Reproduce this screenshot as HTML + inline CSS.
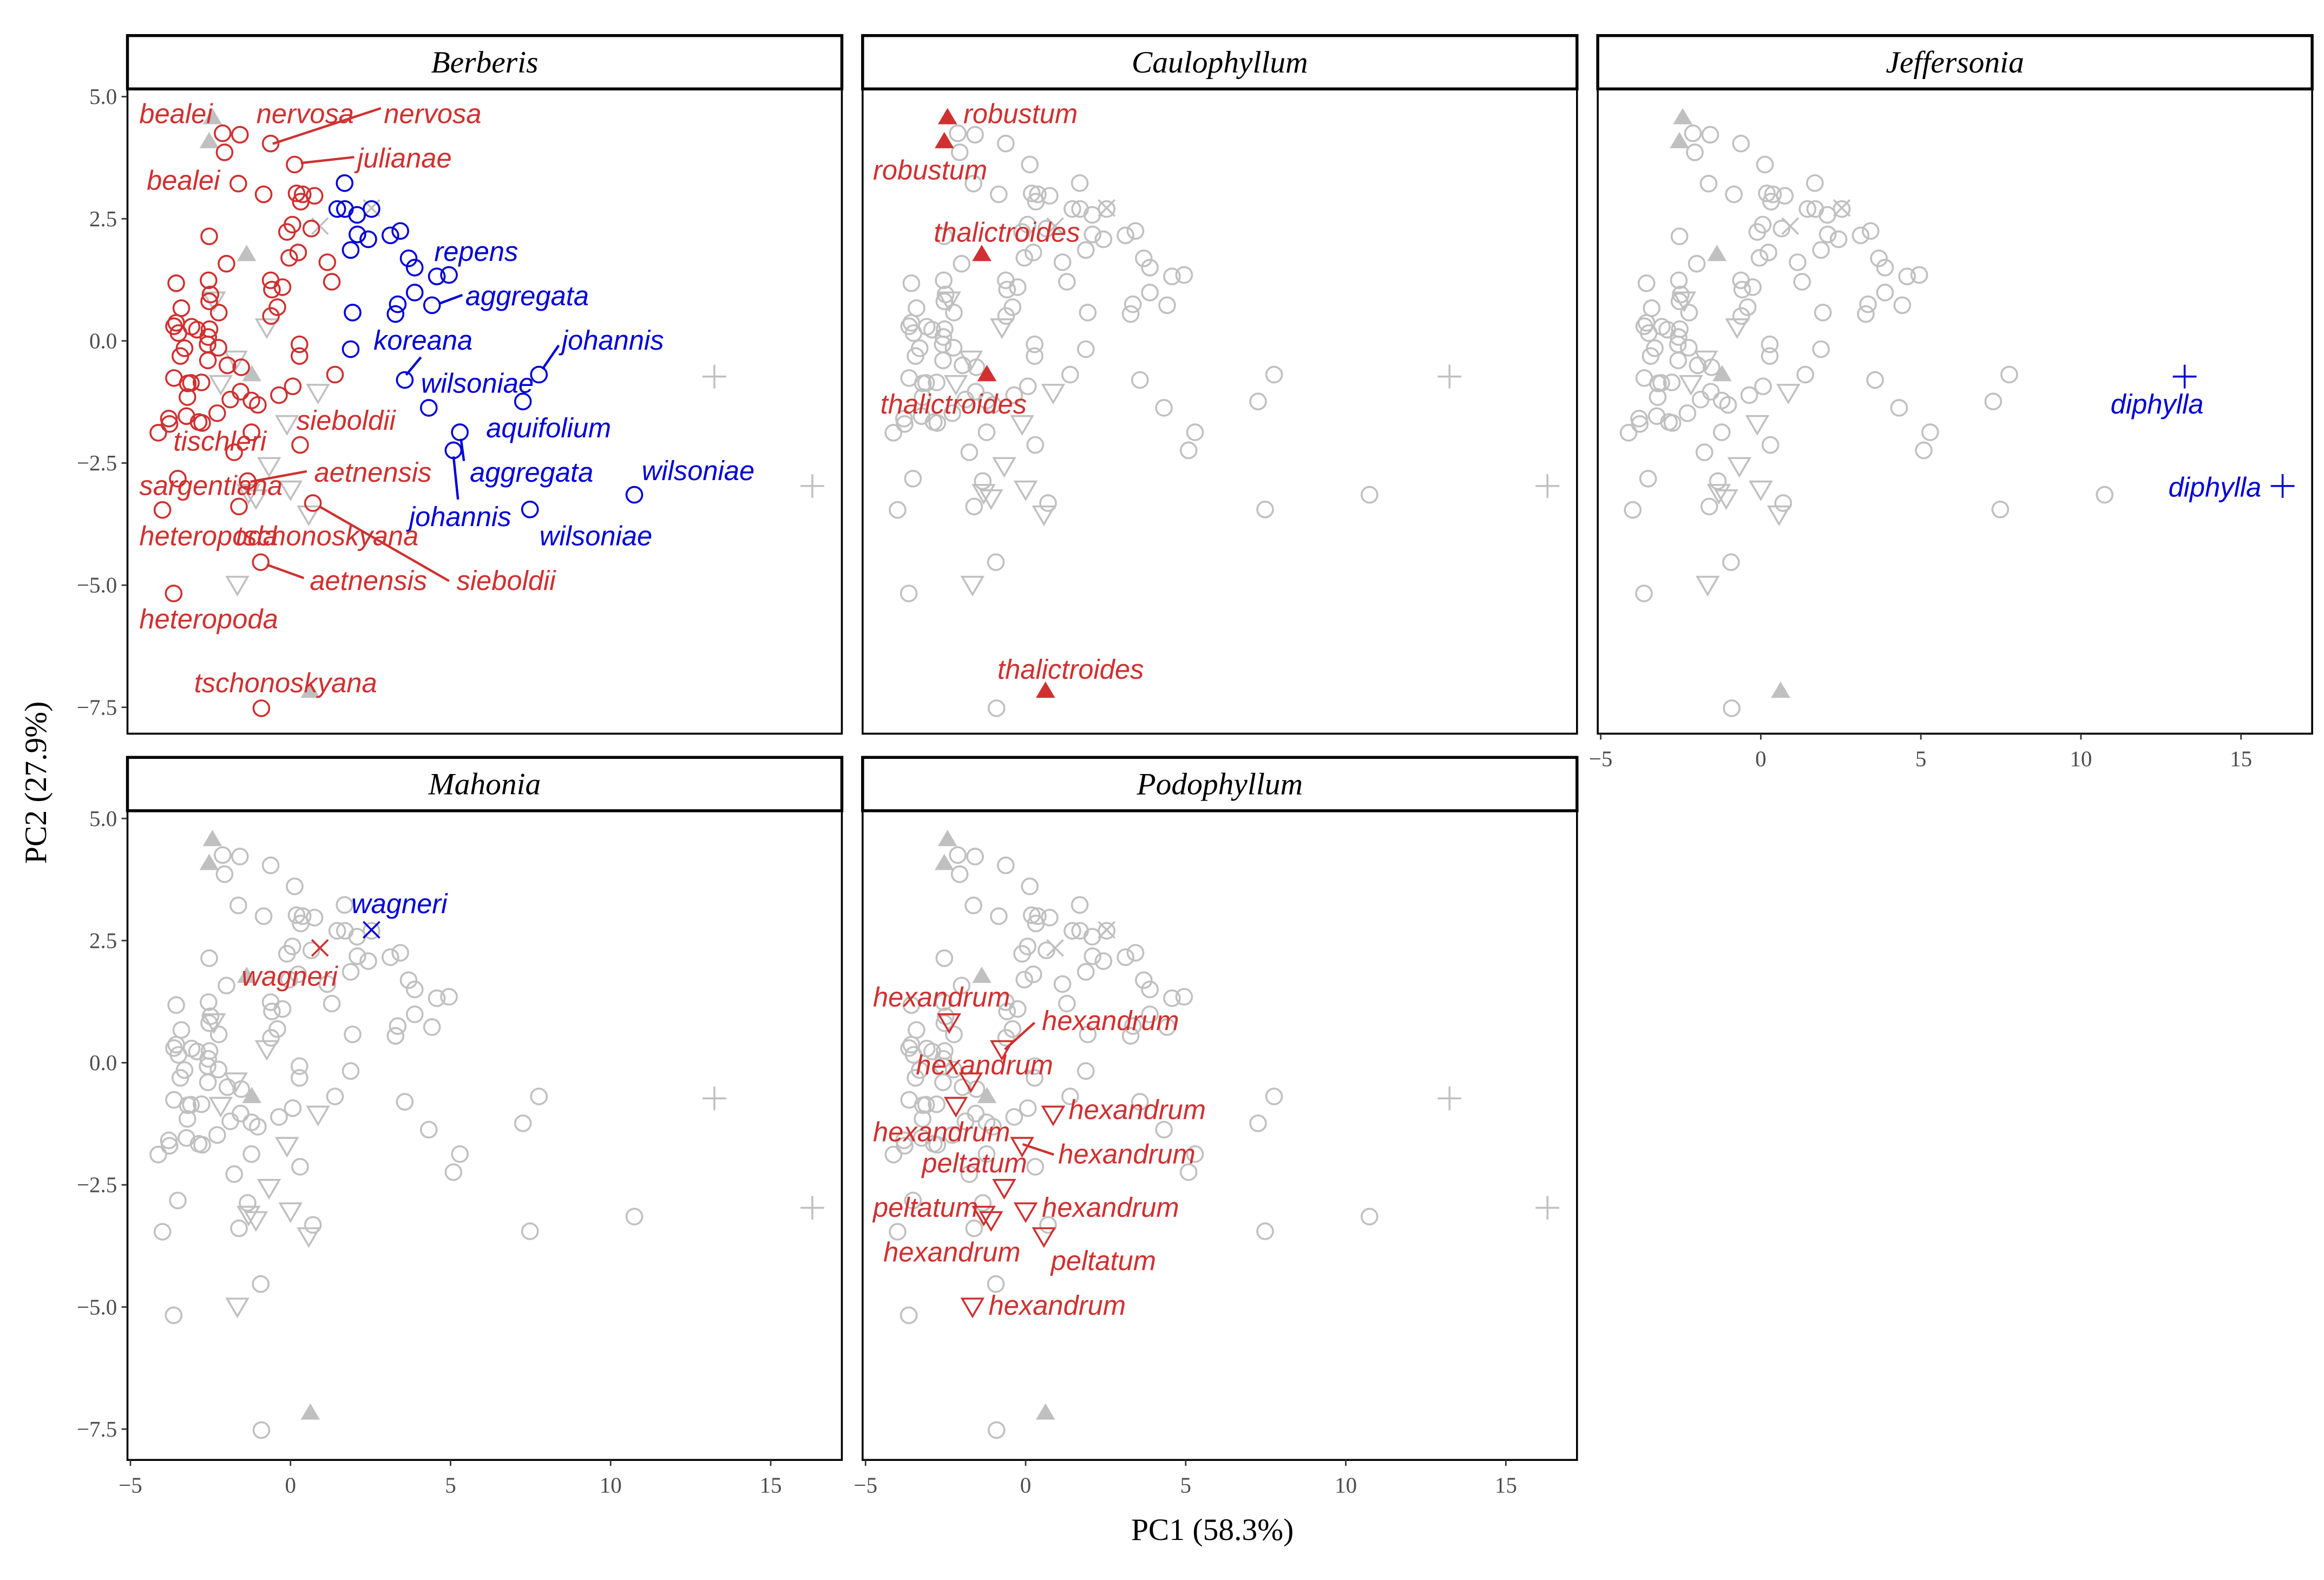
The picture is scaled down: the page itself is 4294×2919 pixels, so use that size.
<!DOCTYPE html>
<html><head><meta charset="utf-8"><style>
html,body{margin:0;padding:0;background:#fff}
svg{display:block}
.lab{font-family:"Liberation Sans",sans-serif;font-style:italic;font-size:18.5px}
.tick{font-family:"Liberation Serif",serif;font-size:15px;fill:#4d4d4d}
.strip{font-family:"Liberation Serif",serif;font-style:italic;font-size:21px}
.title{font-family:"Liberation Serif",serif;font-size:21px}
</style></head><body>
<svg id="chart" width="4294" height="2919" viewBox="0 0 1568 1066" preserveAspectRatio="none" xmlns="http://www.w3.org/2000/svg">
<rect width="1568" height="1066" fill="#fff"/>
</svg>
<script>
// ---- data (PC1, PC2) ----
const pc1 = [-2.12,-1.58,-2.06,-0.62,0.13,-1.63,-0.84,1.69,0.19,0.38,0.75,0.32,1.46,1.70,2.08,2.53,-2.54,0.06,-0.11,0.65,2.09,2.43,3.12,3.43,-2.00,1.88,0.24,-0.04,1.15,3.69,3.88,4.57,4.95,-3.57,-2.56,1.29,-0.62,-0.58,-0.25,3.88,4.42,-2.50,-2.54,-3.41,-2.24,-0.41,-0.61,3.35,3.28,1.94,-3.57,-3.64,-3.50,-3.09,-2.92,-2.53,-2.57,-3.31,-2.59,-2.25,-3.44,0.28,0.28,1.88,-2.58,-1.97,-1.54,-3.64,-3.11,-3.21,-2.78,-3.22,-1.56,-1.88,-1.22,-1.02,-0.36,0.07,1.39,3.57,7.76,7.26,4.32,-3.80,-3.78,-4.13,-3.25,-2.87,-2.76,-2.29,-1.22,0.30,5.29,5.09,-1.76,-3.52,-1.34,-4.00,-1.61,0.70,7.48,-0.93,-3.65,-0.91,10.74,
 -2.44,-2.54,-1.37,-1.21,0.62,
 13.24,16.3,
 0.92,2.53,
 -2.39,-0.74,-1.71,-2.18,0.86,-0.11,-0.67,0.00,-1.31,-1.08,0.57,-1.66];
const pc2 = [4.25,4.22,3.86,4.04,3.61,3.22,3.00,3.23,3.02,3.00,2.97,2.85,2.70,2.70,2.58,2.70,2.14,2.38,2.23,2.30,2.18,2.08,2.16,2.25,1.58,1.86,1.81,1.70,1.61,1.69,1.50,1.32,1.35,1.18,1.24,1.21,1.24,1.05,1.10,0.99,0.73,0.95,0.81,0.67,0.58,0.69,0.51,0.75,0.55,0.58,0.37,0.30,0.16,0.29,0.23,0.24,0.08,-0.15,-0.07,-0.14,-0.31,-0.07,-0.31,-0.17,-0.40,-0.50,-0.54,-0.76,-0.86,-0.87,-0.85,-1.15,-1.04,-1.20,-1.22,-1.31,-1.11,-0.93,-0.69,-0.80,-0.69,-1.24,-1.37,-1.59,-1.70,-1.88,-1.54,-1.66,-1.68,-1.48,-1.87,-2.13,-1.87,-2.24,-2.28,-2.82,-2.87,-3.46,-3.39,-3.32,-3.45,-4.53,-5.17,-7.52,-3.15,
 4.57,4.08,1.77,-0.69,-7.17,
 -0.73,-2.97,
 2.35,2.72,
 0.84,0.29,-0.37,-0.87,-1.05,-1.69,-2.55,-3.03,-3.10,-3.21,-3.54,-4.98];
const genus = "BBBBBBBBBBBBBBBBBBBBBBBBBBBBBBBBBBBBBBBBBBBBBBBBBBBBBBBBBBBBBBBBBBBBBBBBBBBBBBBBBBBBBBBBBBBBBBBBBBBBBBBBB"+"CCCCC"+"JJ"+"MM"+"PPPPPPPPPPPP";
const blueIdx = [7,12,13,14,15,20,21,22,23,25,29,30,31,32,39,40,47,48,49,63,79,80,81,82,92,93,100,104,110,111,113];
const panels = ["Berberis","Caulophyllum","Jeffersonia","Mahonia","Podophyllum"];
const xTicks = [-5,0,5,10,15];
const yTicks = [5.0,2.5,0.0,-2.5,-5.0,-7.5];
const yTickLabels = ["5.0","2.5","0.0","\u22122.5","\u22125.0","\u22127.5"];
const xTickLabels = ["\u22125","0","5","10","15"];

const RED="#d03030", BLUE="#0000d8", GRAY="#c0c0c0";
const NS="http://www.w3.org/2000/svg";
const svg=document.getElementById('chart');
function mk(tag,attrs,parent){const e=document.createElementNS(NS,tag);for(const k in attrs)e.setAttribute(k,attrs[k]);(parent||svg).appendChild(e);return e;}
const colX=[86,582,1078], rowTop=[60,547], rowH=[435,438], rowZero=[230,717], W=482;
const XU=21.6, YU=32.96;
const layout=[[0,0],[1,0],[2,0],[0,1],[1,1]];
function gx(col,v){return colX[col]+110+v*XU;}
function gy(row,v){return rowZero[row]-v*YU;}

function drawMark(g,shape,cx,cy,col,name){
  let e;
  if(shape==='B'){e=mk('circle',{cx:cx,cy:cy,r:5.3,fill:'none',stroke:col,'stroke-width':1.3},g);}
  else if(shape==='C'){e=mk('polygon',{points:`${cx},${cy-6.5} ${cx-6.5},${cy+4.5} ${cx+6.5},${cy+4.5}`,fill:col},g);}
  else if(shape==='P'){e=mk('polygon',{points:`${cx-7},${cy-5} ${cx+7},${cy-5} ${cx},${cy+7}`,fill:'none',stroke:col,'stroke-width':1.3},g);}
  else if(shape==='J'){e=mk('path',{d:`M${cx-8},${cy}H${cx+8}M${cx},${cy-8}V${cy+8}`,stroke:col,'stroke-width':1.3,fill:'none'},g);}
  else {e=mk('path',{d:`M${cx-5.5},${cy-5.5}L${cx+5.5},${cy+5.5}M${cx-5.5},${cy+5.5}L${cx+5.5},${cy-5.5}`,stroke:col,'stroke-width':1.3,fill:'none'},g);}
  
  
}

panels.forEach((p,pi)=>{
  const [c,r]=layout[pi];
  const x0=colX[c], top=rowTop[r], h=rowH[r];
  const g=mk('g',{});
  
  
  const st=mk('rect',{x:x0,y:top-36,width:W,height:36,fill:'#fff',stroke:'#000','stroke-width':2},g);
  
  
  const stt=mk('text',{x:x0+W/2,y:top-11,'text-anchor':'middle',class:'strip'},g);
  stt.textContent=p;
  
  
  const cp='clip'+pi;
  const cpe=mk('clipPath',{id:cp},g); mk('rect',{x:x0,y:top,width:W,height:h},cpe);
  const pts=mk('g',{'clip-path':`url(#${cp})`},g);
  const code=p[0];
  for(let i=0;i<pc1.length;i++){ if(genus[i]!==code) drawMark(pts,genus[i],gx(c,pc1[i]),gy(r,pc2[i]),GRAY,'point-gray'); }
  for(let i=0;i<pc1.length;i++){ if(genus[i]===code){ const col=blueIdx.includes(i)?BLUE:RED; drawMark(pts,genus[i],gx(c,pc1[i]),gy(r,pc2[i]),col,'point-'+p.toLowerCase()); } }
  const fr=mk('rect',{x:x0,y:top,width:W,height:h,fill:'none',stroke:'#000','stroke-width':1.3},g);
  
  
  if(c===0){ yTicks.forEach((v,k)=>{ const y=gy(r,v);
    mk('line',{x1:x0-4,x2:x0,y1:y,y2:y,stroke:'#333','stroke-width':1},g);
    const t=mk('text',{x:x0-7,y:y+5,'text-anchor':'end',class:'tick'},g); t.textContent=yTickLabels[k];
    
    
  });}
  if(r===1||c===2){ xTicks.forEach((v,k)=>{ const x=gx(c,v), yb=top+h;
    mk('line',{x1:x,x2:x,y1:yb,y2:yb+4,stroke:'#333','stroke-width':1},g);
    const t=mk('text',{x:x,y:yb+22,'text-anchor':'middle',class:'tick'},g); t.textContent=xTickLabels[k];
    
    
  });}
});

const labels=[
 ["bealei",94,83,RED],["nervosa",173,83,RED],["nervosa",259,83,RED,[184,97,257,73]],
 ["julianae",241,113,RED,[203,110,239,106]],["bealei",99,128,RED],
 ["repens",293,176,BLUE],["aggregata",314,206,BLUE,[296,205,312,199]],
 ["johannis",379,236,BLUE,[366,249,377,233]],["koreana",252,236,BLUE],[null,0,0,BLUE,[274,253,284,241]],
 ["wilsoniae",284,265,BLUE],["aquifolium",328,295,BLUE],["aggregata",317,325,BLUE,[311,296,313,311]],
 ["johannis",276,355,BLUE,[306,308,309,337]],["wilsoniae",433,324,BLUE],["wilsoniae",364,368,BLUE],
 ["sieboldii",200,290,RED],["tischleri",117,304,RED],["aetnensis",212,325,RED,[169,325,207,318]],
 ["sargentiana",94,334,RED],["heteropoda",94,368,RED],["tschonoskyana",159,368,RED],
 ["aetnensis",209,398,RED,[180,381,205,390]],["sieboldii",308,398,RED,[216,342,303,392]],
 ["heteropoda",94,424,RED],["tschonoskyana",131,467,RED],
 ["robustum",650,83,RED],["robustum",589,121,RED],["thalictroides",630,163,RED],
 ["thalictroides",594,279,RED],["thalictroides",673,458,RED],
 ["diphylla",1424,279,BLUE],["diphylla",1463,335,BLUE],
 ["wagneri",237,616,BLUE],["wagneri",163,665,RED],
 ["hexandrum",589,679,RED],["hexandrum",703,695,RED,[678,708,698,690]],["hexandrum",618,725,RED],
 ["hexandrum",721,755,RED],["hexandrum",589,770,RED],["hexandrum",714,785,RED,[690,772,711,779]],
 ["peltatum",622,791,RED],["peltatum",589,821,RED],["hexandrum",703,821,RED],
 ["hexandrum",596,851,RED],["peltatum",709,857,RED],["hexandrum",667,887,RED]
];
labels.forEach(l=>{
  if(l[4]){const s=l[4]; const ln=mk('line',{x1:s[0],y1:s[1],x2:s[2],y2:s[3],stroke:l[3],'stroke-width':1.6});
    
    }
  if(l[0]){const t=mk('text',{x:l[1],y:l[2],class:'lab',fill:l[3]}); t.textContent=l[0];
    
    }
});

const xt=mk('text',{x:818,y:1039,'text-anchor':'middle',class:'title'}); xt.textContent="PC1 (58.3%)";


const yt=mk('text',{x:0,y:0,'text-anchor':'middle',class:'title',transform:'translate(31,528) rotate(-90)'}); yt.textContent="PC2 (27.9%)";


</script>
</body></html>
